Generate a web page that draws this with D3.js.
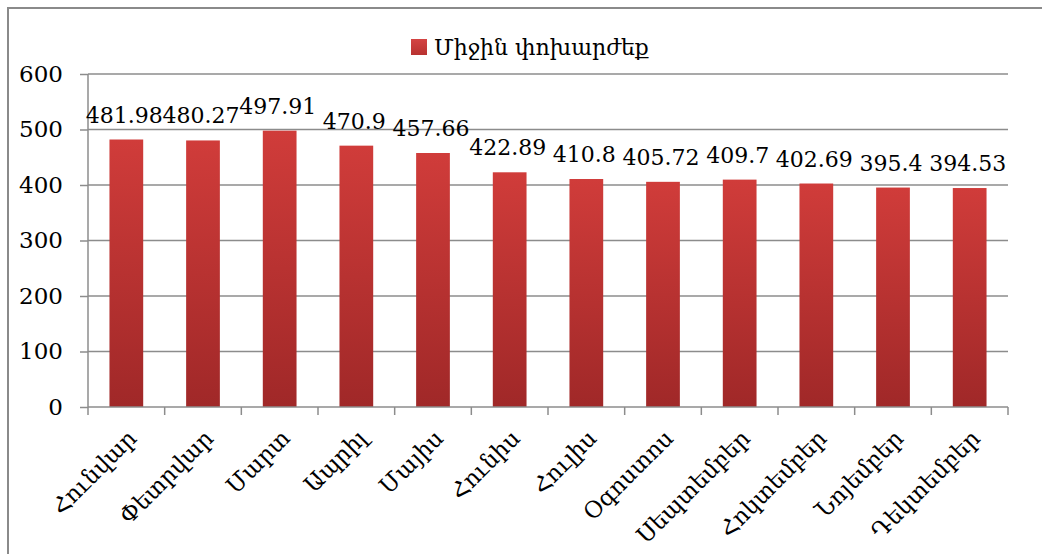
<!DOCTYPE html>
<html><head><meta charset="utf-8">
<script src="https://cdn.jsdelivr.net/npm/d3@7"></script>
<style>body{margin:0;background:#fff}svg{display:block}</style>
</head><body>
<svg id="c" width="1042" height="554"></svg>
<script>
const categories = ["Հունվար","Փետրվար","Մարտ","Ապրիլ","Մայիս","Հունիս","Հուլիս","Օգոստոս","Սեպտեմբեր","Հոկտեմբեր","Նոյեմբեր","Դեկտեմբեր"];
const values = [481.98,480.27,497.91,470.9,457.66,422.89,410.8,405.72,409.7,402.69,395.4,394.53];
const yTicks = [0,100,200,300,400,500,600];
const seriesName = "Միջին փոխարժեք";

(function(){
const svg = d3.select("#c");
const font = "'DejaVu Serif', serif";
const pL = 88, pR = 1008, pT = 74, pB = 407;

// frame
svg.append("path").attr("d","M8,554 V8 H1042").attr("fill","none").attr("stroke","#8a8a8a").attr("stroke-width",2);

const defs = svg.append("defs");
const g1 = defs.append("linearGradient").attr("id","gv").attr("x1",0).attr("y1",0).attr("x2",0).attr("y2",1);
g1.append("stop").attr("offset","0%").attr("stop-color","#d03c3a");
g1.append("stop").attr("offset","100%").attr("stop-color","#a02828");
const g2 = defs.append("linearGradient").attr("id","gl").attr("x1",0).attr("y1",0).attr("x2",0).attr("y2",1);
g2.append("stop").attr("offset","0%").attr("stop-color","#d44443");
g2.append("stop").attr("offset","100%").attr("stop-color","#b83230");

const x = d3.scaleBand().domain(categories).range([pL,pR]).paddingInner(0.56).paddingOuter(0.28);
const y = d3.scaleLinear().domain([0,600]).range([pB,pT]);

// gridlines
svg.append("g").selectAll("line").data(yTicks.filter(d=>d>0)).join("line")
  .attr("x1",pL).attr("x2",pR).attr("y1",d=>y(d)).attr("y2",d=>y(d))
  .attr("stroke","#8c8c8c").attr("stroke-width",1.5);

// bars
svg.append("g").selectAll("rect").data(values).join("rect")
  .attr("x",(d,i)=>x(categories[i])).attr("width",x.bandwidth())
  .attr("y",d=>y(d)).attr("height",d=>pB-y(d))
  .attr("fill","url(#gv)");

// y axis
const ya = svg.append("g").attr("transform",`translate(${pL},0)`)
  .call(d3.axisLeft(y).tickValues(yTicks).tickSize(8).tickPadding(17));
ya.select(".domain").attr("stroke","#8c8c8c").attr("stroke-width",1.5).attr("d",`M0,${pT}V${pB}`);
ya.selectAll(".tick line").attr("stroke","#8c8c8c").attr("stroke-width",1.5);
ya.selectAll("text").attr("font-family",font).attr("font-size",23).attr("fill","#000");

// x axis
const step = x.step();
const xa = svg.append("g").attr("transform",`translate(0,${pB})`);
xa.append("line").attr("x1",pL).attr("x2",pR).attr("stroke","#8c8c8c").attr("stroke-width",1.5);
xa.selectAll("line.t").data(d3.range(categories.length+1)).join("line").attr("class","t")
  .attr("x1",i=>pL+i*step).attr("x2",i=>pL+i*step).attr("y1",0).attr("y2",8)
  .attr("stroke","#8c8c8c").attr("stroke-width",1.5);
xa.selectAll("text").data(categories).join("text")
  .attr("transform",d=>`translate(${x(d)+x.bandwidth()/2+6},27) rotate(-45)`)
  .attr("text-anchor","end").attr("dy","0.35em")
  .attr("font-family",font).attr("font-size",23).attr("fill","#000")
  .text(d=>d);

// value labels
svg.append("g").selectAll("text").data(values).join("text")
  .attr("x",(d,i)=>x(categories[i])+x.bandwidth()/2 - 2)
  .attr("y",d=>y(d)-17)
  .attr("text-anchor","middle")
  .attr("font-family",font).attr("font-size",22).attr("fill","#000")
  .text(d=>d);

// legend
const lg = svg.append("g");
lg.append("rect").attr("x",411).attr("y",39).attr("width",16).attr("height",16).attr("fill","url(#gl)");
lg.append("text").attr("x",434).attr("y",55).attr("font-family",font).attr("font-size",22).attr("fill","#000").text(seriesName);
})();
</script>
</body></html>
